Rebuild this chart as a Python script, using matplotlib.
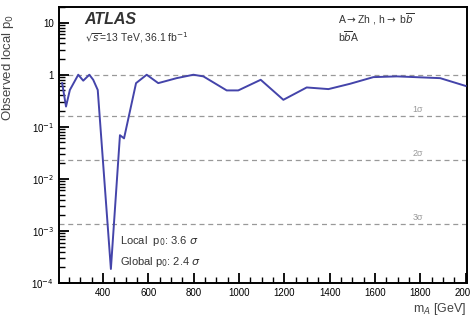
import math
import matplotlib
matplotlib.use("Agg")
import matplotlib.pyplot as plt
from matplotlib.ticker import FixedLocator, FuncFormatter, MultipleLocator, LogLocator, NullFormatter

# observed local p0 vs m_A
mass = [220, 237, 254, 291, 313, 340, 357, 377, 400, 435, 475, 493, 546, 593,
        644, 725, 799, 843, 946, 997, 1096, 1196, 1299, 1395, 1490, 1593,
        1697, 1888, 2000]
p0 = [0.69, 0.245, 0.51, 1.0, 0.77, 1.0, 0.8, 0.51, 0.022, 0.000186, 0.069,
      0.06, 0.69, 1.0, 0.69, 0.86, 1.0, 0.93, 0.5, 0.5, 0.8, 0.33, 0.57,
      0.53, 0.67, 0.9, 0.93, 0.86, 0.61]

sigma_lines = [1.0, 0.1587, 0.02275, 0.00135]
sigma_labels = ["", "1\u03c3", "2\u03c3", "3\u03c3"]

plt.rcParams['font.family'] = ['Liberation Sans', 'DejaVu Sans']

fig = plt.figure(figsize=(4.7, 3.18), dpi=100)
ax = fig.add_axes([0.1255, 0.110, 0.8675, 0.868])

for y, lab in zip(sigma_lines, sigma_labels):
    ax.axhline(y, color='#999999', ls=(0, (4, 3)), lw=0.9, zorder=1)
    if lab:
        ax.text(1790, y * 1.12, lab, color='#999999', fontsize=6.5,
                ha='center', va='bottom')

ax.plot(mass, p0, color='#4444aa', lw=1.4, zorder=3)

ax.set_yscale('log')
ax.set_ylim(1e-4, 20)
ax.set_xlim(206, 2005)

ax.xaxis.set_major_locator(FixedLocator([400, 600, 800, 1000, 1200, 1400, 1600, 1800, 2000]))
ax.xaxis.set_minor_locator(MultipleLocator(50))
ax.yaxis.set_major_locator(FixedLocator([1e-4, 1e-3, 1e-2, 1e-1, 1, 10]))
ax.yaxis.set_minor_locator(LogLocator(base=10, subs=range(2, 10), numticks=20))
ax.yaxis.set_minor_formatter(NullFormatter())


def yfmt(v, pos):
    if v >= 1:
        return "%d" % round(v)
    return r"10$^{%d}$" % round(math.log10(v))


ax.yaxis.set_major_formatter(FuncFormatter(yfmt))
ax.tick_params(which='both', direction='in', top=False, right=False, labelsize=7)
ax.tick_params(which='major', length=7, width=1.3)
ax.tick_params(which='minor', length=4, width=1.0)
for s in ax.spines.values():
    s.set_linewidth(1.4)

ax.set_ylabel(r"Observed local p$_{0}$", fontsize=9.5, color='#444444')
ax.yaxis.set_label_coords(-0.105, 0.78)
ax.set_xlabel(r"m$_{A}$ [GeV]", fontsize=9, color='#444444', loc='right')
ax.xaxis.set_label_coords(1.0, -0.065)

ax.text(0.061, 0.94, "ATLAS", transform=ax.transAxes, fontsize=11.5,
        fontweight='bold', fontstyle='italic', color='#333333')
ax.text(0.063, 0.875, r"$\sqrt{s}$=13 TeV, 36.1 fb$^{-1}$", transform=ax.transAxes,
        fontsize=7.5, color='#333333')
ax.text(0.685, 0.94, r"A$\rightarrow$Zh , h$\rightarrow$ b$\overline{b}$",
        transform=ax.transAxes, fontsize=7.5, color='#333333')
ax.text(0.685, 0.875, r"b$\overline{b}$A", transform=ax.transAxes,
        fontsize=7.5, color='#333333')
ax.text(0.15, 0.14, r"Local  p$_{0}$: 3.6 $\sigma$", transform=ax.transAxes,
        fontsize=8, color='#333333')
ax.text(0.15, 0.065, r"Global p$_{0}$: 2.4 $\sigma$", transform=ax.transAxes,
        fontsize=8, color='#333333')

fig.savefig("out.png", dpi=100)
